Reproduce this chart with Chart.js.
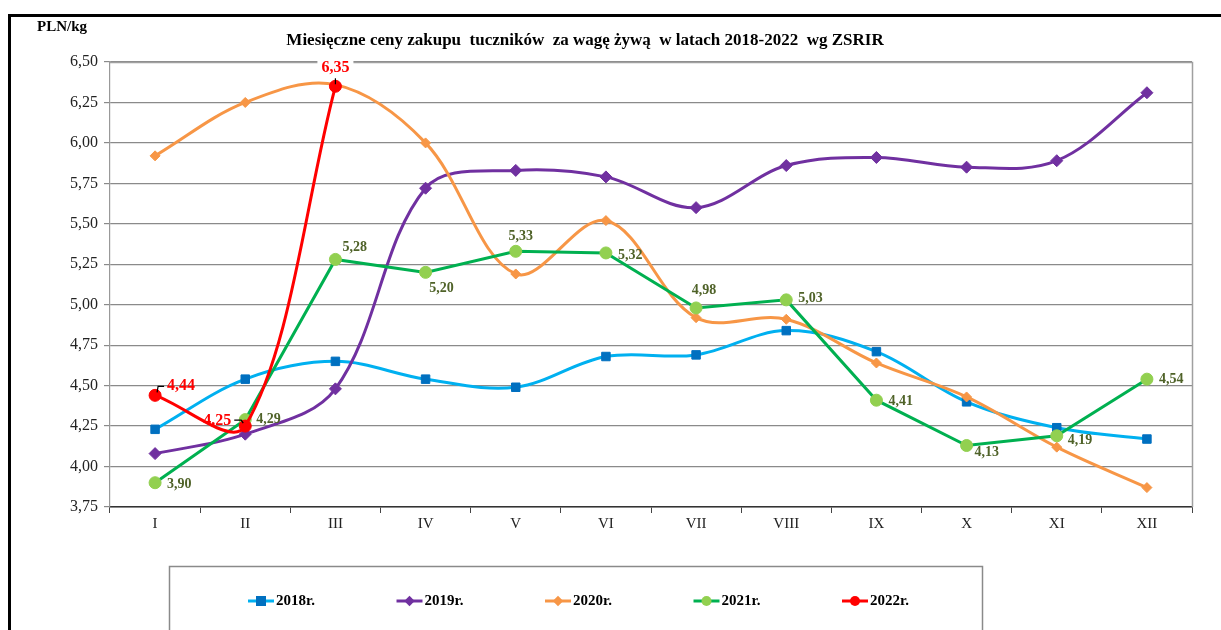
<!DOCTYPE html>
<html><head><meta charset="utf-8">
<script src="https://cdn.jsdelivr.net/npm/chart.js@4.4.1/dist/chart.umd.min.js"></script>
<style>html,body{margin:0;padding:0;background:#fff}#wrap{width:1221px;height:630px;position:relative}</style>
</head><body><div id="wrap"><canvas id="c" width="1221" height="630"></canvas></div>
<script>
const months = ['I','II','III','IV','V','VI','VII','VIII','IX','X','XI','XII'];
const y2018 = [4.23,4.54,4.65,4.54,4.49,4.68,4.69,4.84,4.71,4.40,4.24,4.17];
const y2019 = [4.08,4.20,4.48,5.72,5.83,5.79,5.60,5.86,5.91,5.85,5.89,6.31];
const y2020 = [5.92,6.25,6.36,6.00,5.19,5.52,4.92,4.91,4.64,4.43,4.12,3.87];
const y2021 = [3.90,4.29,5.28,5.20,5.33,5.32,4.98,5.03,4.41,4.13,4.19,4.54];
const y2022 = [4.44,4.25,6.35,null,null,null,null,null,null,null,null,null];
const seriesNames = ['2018r.','2019r.','2020r.','2021r.','2022r.'];
const yTicks = [3.75,4.00,4.25,4.50,4.75,5.00,5.25,5.50,5.75,6.00,6.25,6.50];
const titleText = 'Miesięczne ceny zakupu  tuczników  za wagę żywą  w latach 2018-2022  wg ZSRIR';
const unitText = 'PLN/kg';

const FONT = '"Liberation Serif", "Times New Roman", serif';
const fmt = v => v.toFixed(2).replace('.', ',');

// label placement (offsets in px relative to point) for labelled series
const labels2021 = [
  {dx:12,dy:2,align:'left'},{dx:11,dy:0,align:'left'},{dx:7,dy:-12,align:'left'},{dx:16,dy:16,align:'center'},
  {dx:5,dy:-15,align:'center'},{dx:12,dy:2,align:'left'},{dx:8,dy:-18,align:'center'},{dx:12,dy:-1,align:'left'},
  {dx:12,dy:1,align:'left'},{dx:8,dy:7,align:'left'},{dx:11,dy:5,align:'left'},{dx:12,dy:0,align:'left'}
];
const labels2022 = [
  {dx:12,dy:-9,align:'left',lead:'r'},{dx:-14,dy:-5,align:'right',lead:'l'},{dx:0,dy:-18,align:'center',bg:true}
];

const datasets = [
  {label:seriesNames[0],data:y2018,borderColor:'#00B0F0',pointBackgroundColor:'#0070C0',pointBorderColor:'#0070C0',pointStyle:'rect',pointRadius:6,tension:0.35,order:5},
  {label:seriesNames[1],data:y2019,borderColor:'#7030A0',pointBackgroundColor:'#7030A0',pointBorderColor:'#7030A0',pointStyle:'rectRot',pointRadius:6,tension:0.35,order:4},
  {label:seriesNames[2],data:y2020,borderColor:'#F79646',pointBackgroundColor:'#F79646',pointBorderColor:'#F79646',pointStyle:'rectRot',pointRadius:5,tension:0.35,order:3},
  {label:seriesNames[3],data:y2021,borderColor:'#00B050',pointBackgroundColor:'#92D050',pointBorderColor:'#92D050',pointStyle:'circle',pointRadius:6,tension:0,order:2},
  {label:seriesNames[4],data:y2022,borderColor:'#FF0000',pointBackgroundColor:'#FF0000',pointBorderColor:'#FF0000',pointStyle:'circle',pointRadius:6,tension:0.33,order:1}
];
datasets.forEach(d=>{d.borderWidth=3;d.pointBorderWidth=1;d.fill=false;d.spanGaps=false;});

function drawMarker(ctx, style, x, y, r, color){
  ctx.save();ctx.fillStyle=color;ctx.beginPath();
  if(style==='rect'){ctx.rect(x-r,y-r,2*r,2*r);}
  else if(style==='rectRot'){ctx.moveTo(x,y-r*1.3);ctx.lineTo(x+r*1.3,y);ctx.lineTo(x,y+r*1.3);ctx.lineTo(x-r*1.3,y);ctx.closePath();}
  else {ctx.arc(x,y,r,0,Math.PI*2);}
  ctx.fill();ctx.restore();
}

const framePlugin = {
  id:'frame',
  beforeDraw(chart){
    const ctx=chart.ctx;ctx.save();
    ctx.fillStyle='#fff';ctx.fillRect(0,0,chart.width,chart.height);
    ctx.strokeStyle='#000';ctx.lineWidth=3;
    ctx.beginPath();ctx.moveTo(9.5,630);ctx.lineTo(9.5,15.5);ctx.lineTo(1221,15.5);ctx.stroke();
    ctx.fillStyle='#000';ctx.textBaseline='middle';
    ctx.font='bold 15px '+FONT;ctx.textAlign='left';ctx.fillText(unitText,37,27);
    ctx.font='bold 17px '+FONT;ctx.textAlign='center';ctx.fillText(titleText,585,41);
    ctx.restore();
  },
  beforeDatasetsDraw(chart){
    const a=chart.chartArea, ctx=chart.ctx;ctx.save();
    ctx.strokeStyle='#a0a0a0';ctx.lineWidth=1.5;
    ctx.beginPath();ctx.moveTo(a.left,a.top+0.5);ctx.lineTo(a.right+0.5,a.top+0.5);ctx.lineTo(a.right+0.5,a.bottom);ctx.stroke();
    ctx.restore();
  },
  afterDatasetsDraw(chart){
    const ctx=chart.ctx;
    const m3=chart.getDatasetMeta(3);
    ctx.save();ctx.font='bold 14px '+FONT;ctx.fillStyle='#4F6228';ctx.textBaseline='middle';
    y2021.forEach((v,j)=>{const p=m3.data[j];const c=labels2021[j];ctx.textAlign=c.align;ctx.fillText(fmt(v),p.x+c.dx,p.y+c.dy);});
    ctx.restore();
    const m4=chart.getDatasetMeta(4);
    ctx.save();ctx.font='bold 16px '+FONT;ctx.textBaseline='middle';
    y2022.forEach((v,j)=>{
      if(v==null)return;const p=m4.data[j];const c=labels2022[j];
      const tx=p.x+c.dx, ty=p.y+c.dy;const t=fmt(v);const w=ctx.measureText(t).width;
      if(c.bg){ctx.fillStyle='#fff';ctx.fillRect(tx-w/2-4,ty-9,w+8,18);}
      ctx.strokeStyle='#000';ctx.lineWidth=1.2;ctx.beginPath();
      if(c.lead==='r'){ctx.moveTo(p.x+2,p.y-3);ctx.lineTo(p.x+3,p.y-9);ctx.lineTo(p.x+9,p.y-9);ctx.stroke();}
      else if(c.lead==='l'){ctx.moveTo(p.x-2,p.y-3);ctx.lineTo(p.x-4,p.y-6);ctx.lineTo(p.x-11,p.y-6);ctx.stroke();}
      else {ctx.moveTo(p.x,p.y-2);ctx.lineTo(p.x,p.y-8);ctx.stroke();}
      ctx.fillStyle='#FF0000';ctx.textAlign=c.align;ctx.fillText(t,tx,ty);
    });
    ctx.restore();
  },
  afterDraw(chart){
    const ctx=chart.ctx;ctx.save();
    ctx.strokeStyle='#8a8a8a';ctx.lineWidth=1.5;ctx.strokeRect(169.5,566.5,813,90);
    const ly=601;
    chart.data.datasets.forEach((d,i)=>{
      const cx=261+i*148.5;
      ctx.strokeStyle=d.borderColor;ctx.lineWidth=3;ctx.beginPath();ctx.moveTo(cx-13,ly);ctx.lineTo(cx+13,ly);ctx.stroke();
      drawMarker(ctx,d.pointStyle,cx,ly,d.pointStyle==='rect'?5:(d.pointStyle==='circle'?5:4),d.pointBackgroundColor);
      ctx.fillStyle='#000';ctx.font='bold 15px '+FONT;ctx.textAlign='left';ctx.textBaseline='middle';
      ctx.fillText(d.label,cx+15,ly);
    });
    ctx.restore();
  }
};

new Chart(document.getElementById('c'),{
  type:'line',
  data:{labels:months,datasets:datasets},
  options:{
    responsive:false,animation:false,events:[],
    layout:{padding:{left:0,top:62,right:29,bottom:83}},
    plugins:{legend:{display:false},title:{display:false},tooltip:{enabled:false}},
    elements:{line:{capBezierPoints:true}},
    scales:{
      x:{type:'category',offset:true,
        grid:{offset:true,drawOnChartArea:false,drawTicks:true,tickLength:6,color:'#444',lineWidth:1},
        border:{display:true,color:'#333',width:1.5},
        ticks:{font:{family:FONT,size:15},color:'#222',padding:2,maxRotation:0,autoSkip:false},
        afterFit(s){s.height=40;}
      },
      y:{min:3.75,max:6.5,
        afterBuildTicks(s){s.ticks=yTicks.map(v=>({value:v}));},
        grid:{color:'#8a8a8a',lineWidth:1.2,tickLength:6,drawTicks:true},
        border:{display:true,color:'#999',width:1.2},
        ticks:{font:{family:FONT,size:16},color:'#222',padding:6,callback:v=>fmt(v)},
        afterFit(s){s.width=110;}
      }
    }
  },
  plugins:[framePlugin]
});
</script></body></html>
